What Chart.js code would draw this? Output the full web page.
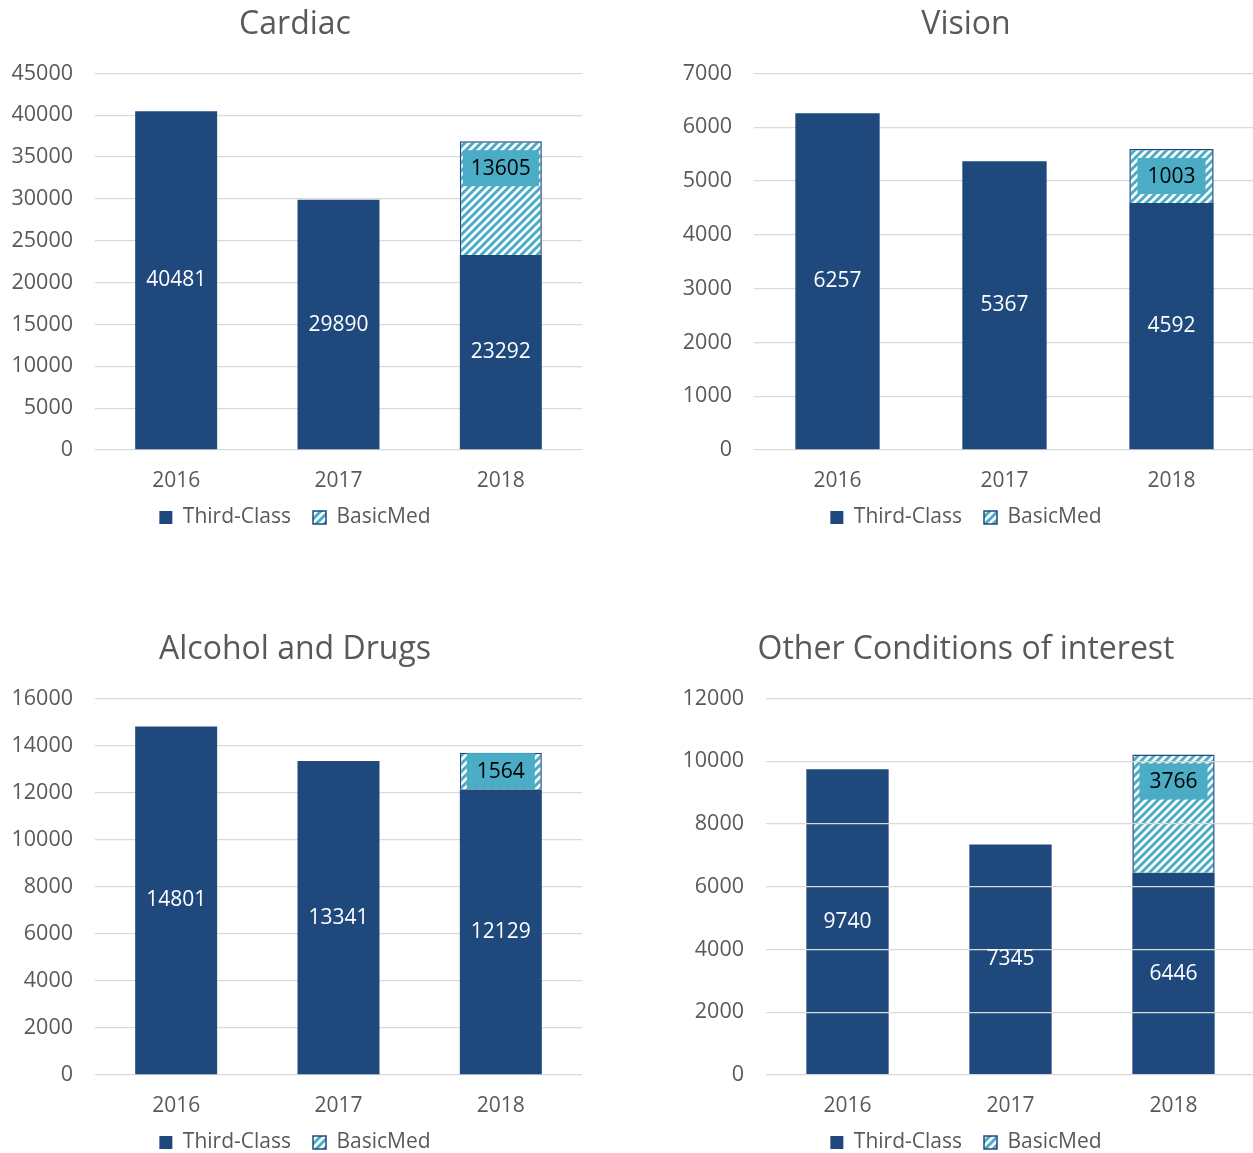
<!DOCTYPE html>
<html>
<head>
<meta charset="utf-8">
<script src="https://cdn.jsdelivr.net/npm/chart.js@4.4.1/dist/chart.umd.min.js"></script>
<style>
  html, body { margin: 0; padding: 0; background: #ffffff; overflow: hidden; }
  #wrap { position: relative; width: 1253px; height: 1153px; overflow: hidden; }
  .box { position: absolute; }
</style>
</head>
<body>
<div id="wrap">
  <div class="box" style="left:8px;top:0px;width:574px;height:538px;"><canvas id="c1"></canvas></div>
  <div class="box" style="left:677px;top:0px;width:578px;height:538px;"><canvas id="c2"></canvas></div>
  <div class="box" style="left:8px;top:625px;width:574px;height:538px;"><canvas id="c3"></canvas></div>
  <div class="box" style="left:677px;top:625px;width:578px;height:538px;"><canvas id="c4"></canvas></div>
</div>
<script>
// ---------- data ----------
const years = ['2016', '2017', '2018'];
const seriesNames = ['Third-Class', 'BasicMed'];

const cardiacThird = [40481, 29890, 23292];
const cardiacBasic = [null, null, 13605];

const visionThird = [6257, 5367, 4592];
const visionBasic = [null, null, 1003];

const alcoholThird = [14801, 13341, 12129];
const alcoholBasic = [null, null, 1564];

const otherThird = [9740, 7345, 6446];
const otherBasic = [null, null, 3766];

const titles = ['Cardiac', 'Vision', 'Alcohol and Drugs', 'Other Conditions of interest'];
const axisMax = [45000, 7000, 16000, 12000];
const axisStep = [5000, 1000, 2000, 2000];

// ---------- styles ----------
const DARK = '#1F497D';
const TEAL = '#4BACC6';
const GRAY = '#595959';
const GRID = '#D9D9D9';
const FONT = "'Open Sans', 'Noto Sans', sans-serif";

function makeHatch() {
  const c = document.createElement('canvas');
  c.width = 8; c.height = 8;
  const g = c.getContext('2d');
  g.fillStyle = '#ffffff';
  g.fillRect(0, 0, 8, 8);
  g.strokeStyle = TEAL;
  g.lineWidth = 3;
  g.beginPath();
  g.moveTo(-2, 10); g.lineTo(10, -2);
  g.moveTo(-6, 6); g.lineTo(6, -6);
  g.moveTo(2, 14); g.lineTo(14, 2);
  g.stroke();
  return document.createElement('canvas').getContext('2d').createPattern(c, 'repeat');
}
const hatch = makeHatch();

const labelPlugin = {
  id: 'barLabels',
  afterDraw(chart) {
    const ctx = chart.ctx;
    ctx.save();
    ctx.font = "21px " + FONT;
    ctx.textAlign = 'center';
    ctx.textBaseline = 'middle';
    chart.data.datasets.forEach((ds, di) => {
      const meta = chart.getDatasetMeta(di);
      meta.data.forEach((el, i) => {
        const v = ds.data[i];
        if (v === null || v === undefined) return;
        const p = el.getProps(['x', 'y', 'base', 'width'], true);
        const top = Math.min(p.y, p.base), bot = Math.max(p.y, p.base);
        const txt = String(v);
        if (di === 0) {
          ctx.fillStyle = '#ffffff';
          ctx.fillText(txt, p.x, (top + bot) / 2);
        } else {
          const h = bot - top;
          const cy = top + Math.min(27, h / 2);
          const tw = ctx.measureText(txt).width;
          const bw = Math.min(tw + 20, p.width - 6);
          const bh = 36;
          ctx.fillStyle = TEAL;
          ctx.fillRect(p.x - bw / 2, cy - bh / 2, bw, bh);
          ctx.fillStyle = '#000000';
          ctx.fillText(txt, p.x, cy + 1);
        }
      });
    });
    ctx.restore();
  }
};

function makeChart(id, idx, third, basic, yWidth, gridOnTop) {
  new Chart(document.getElementById(id), {
    type: 'bar',
    data: {
      labels: years,
      datasets: [
        {
          label: seriesNames[0],
          data: third,
          backgroundColor: DARK,
          borderColor: DARK,
          borderWidth: 0,
          stack: 's',
          categoryPercentage: 1,
          barPercentage: 0.505
        },
        {
          label: seriesNames[1],
          data: basic,
          backgroundColor: hatch,
          borderColor: DARK,
          borderWidth: 1.5,
          stack: 's',
          categoryPercentage: 1,
          barPercentage: 0.505
        }
      ]
    },
    plugins: [labelPlugin],
    options: {
      responsive: true,
      maintainAspectRatio: false,
      animation: false,
      layout: { padding: { left: 0, right: 0, top: 0, bottom: 0 } },
      plugins: {
        title: {
          display: true,
          text: titles[idx],
          color: GRAY,
          font: { family: FONT, size: 32, weight: 'normal' },
          padding: { top: 6, bottom: 29 }
        },
        legend: {
          display: true,
          position: 'bottom',
          labels: {
            color: GRAY,
            font: { family: FONT, size: 21 },
            boxWidth: 13,
            boxHeight: 13,
            padding: 22
          }
        },
        tooltip: { enabled: false }
      },
      scales: {
        x: {
          stacked: true,
          afterFit(scale) {
            scale.height = 35;
            scale._computeLabelArea = () => undefined;
          },
          grid: { display: false, drawTicks: false },
          border: { display: false },
          ticks: { color: GRAY, font: { family: FONT, size: 21 }, padding: 18 }
        },
        y: {
          stacked: true,
          min: 0,
          max: axisMax[idx],
          afterFit(scale) { scale.width = yWidth; },
          grid: { color: GRID, lineWidth: 1.3, drawTicks: false, z: gridOnTop ? 1 : -1 },
          border: { display: false },
          ticks: {
            stepSize: axisStep[idx], color: GRAY, font: { family: FONT, size: 21.5 }, padding: 22,
            callback: (v) => String(v)
          }
        }
      }
    }
  });
}

makeChart('c1', 0, cardiacThird, cardiacBasic, 87, false);
makeChart('c2', 1, visionThird, visionBasic, 77, false);
makeChart('c3', 2, alcoholThird, alcoholBasic, 87, false);
makeChart('c4', 3, otherThird, otherBasic, 89, true);
</script>
</body>
</html>
